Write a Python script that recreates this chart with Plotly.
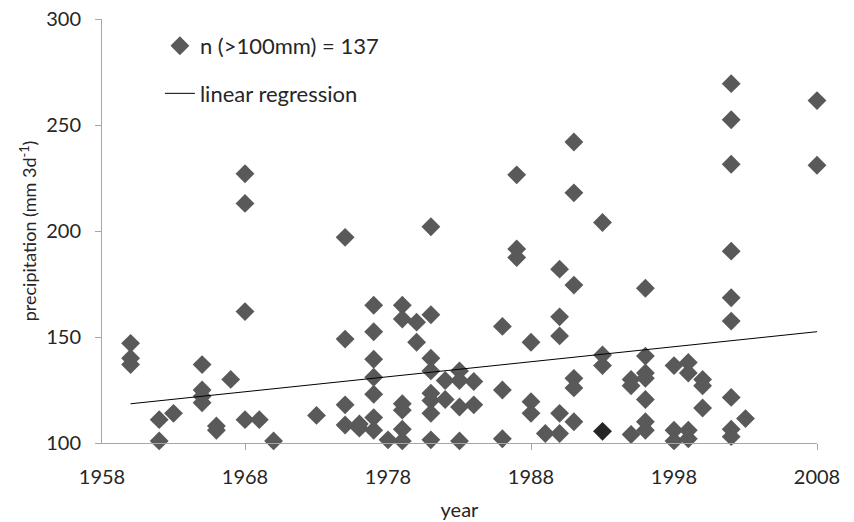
import plotly.graph_objects as go

# Events > 100 mm in 3 days: year, precipitation (mm 3d-1)
years = [
    1960, 1960, 1960,
    1962, 1962,
    1963,
    1965, 1965, 1965, 1965,
    1966, 1966,
    1967,
    1968, 1968, 1968, 1968,
    1969,
    1970,
    1973,
    1975, 1975, 1975, 1975,
    1976, 1976,
    1977, 1977, 1977, 1977, 1977, 1977, 1977,
    1978,
    1979, 1979, 1979, 1979, 1979, 1979,
    1980, 1980,
    1981, 1981, 1981, 1981, 1981, 1981, 1981, 1981,
    1982, 1982,
    1983, 1983, 1983, 1983,
    1984, 1984,
    1986, 1986, 1986,
    1987, 1987, 1987,
    1988, 1988, 1988,
    1989,
    1990, 1990, 1990, 1990, 1990,
    1991, 1991, 1991, 1991, 1991, 1991,
    1993, 1993, 1993,
    1995, 1995, 1995,
    1996, 1996, 1996, 1996, 1996, 1996, 1996,
    1998, 1998, 1998,
    1999, 1999, 1999, 1999,
    2000, 2000, 2000,
    2002, 2002, 2002, 2002, 2002, 2002, 2002, 2002, 2002,
    2003,
    2008, 2008,
]
precip = [
    147, 140, 137,
    111, 101,
    114,
    137, 125, 122, 119,
    108, 106,
    130,
    227, 213, 162, 111,
    111,
    101,
    113,
    197, 149, 118, 108.5,
    109, 107,
    165, 152.5, 139.5, 131, 123, 112, 106,
    101.5,
    165, 158.5, 118.5, 115.5, 106.5, 101,
    157, 147.5,
    202, 160.5, 140, 134, 123.5, 120, 114, 101.5,
    129.5, 120.5,
    134, 129.5, 117, 101,
    129, 118,
    155, 125, 102,
    226.5, 191.5, 187.5,
    147.5, 119.5, 114,
    104.5,
    182, 159.5, 150.5, 114, 104.5,
    242, 218, 174.5, 130.5, 126, 110,
    204, 141.5, 136.5,
    130, 127, 104,
    173, 141, 133, 130.5, 120.5, 110, 106,
    136.5, 106, 101,
    138, 133, 106, 102,
    130, 127, 116.5,
    269.5, 252.5, 231.5, 190.5, 168.5, 157.5, 121.5, 106.5, 103,
    111.5,
    261.5, 231,
]
# highlighted (darker) event
dark_years = [1993]
dark_precip = [105.5]

# linear regression end points
reg_years = [1960, 2008]
reg_precip = [118.5, 152.5]

x_ticks = [1958, 1968, 1978, 1988, 1998, 2008]
y_ticks = [100, 150, 200, 250, 300]

FONT = "Lato"
GREY = "#595959"
AXIS = "#a6a6a6"

fig = go.Figure()
fig.add_trace(go.Scatter(
    x=years, y=precip, mode="markers", name="n (>100mm) = 137",
    marker=dict(symbol="diamond", size=14.5, color=GREY, line=dict(width=0)),
    cliponaxis=False, legendgroup="a",
))
fig.add_trace(go.Scatter(
    x=dark_years, y=dark_precip, mode="markers", showlegend=False,
    marker=dict(symbol="diamond", size=14.5, color="#262626", line=dict(width=0)),
    cliponaxis=False,
))
fig.add_trace(go.Scatter(
    x=reg_years, y=reg_precip, mode="lines", name="linear regression",
    line=dict(color="black", width=1), legendgroup="b",
))

fig.update_layout(
    width=854, height=522,
    margin=dict(l=102, r=37, t=19, b=79),
    paper_bgcolor="white", plot_bgcolor="white",
    font=dict(family=FONT, size=18, color="#262626"),
    showlegend=True,
    legend=dict(
        x=0.081, y=0.986, xanchor="left", yanchor="top",
        bgcolor="rgba(0,0,0,0)", font=dict(size=22, family=FONT),
        tracegroupgap=16, itemwidth=30,
    ),
    xaxis=dict(
        range=[1958, 2008], tickvals=x_ticks, ticktext=[str(v) for v in x_ticks],
        showgrid=False, zeroline=False, showline=True, linecolor=AXIS, linewidth=1,
        ticks="", ticklabelstandoff=16, automargin=False,
        minor=dict(ticks="outside", tickvals=[1968, 1988, 2008], ticklen=6, tickcolor=AXIS),
        title=dict(text="year", standoff=15, font=dict(size=20)),
        tickfont=dict(size=20),
    ),
    yaxis=dict(
        range=[100, 300], tickvals=y_ticks, automargin=False,
        showgrid=False, zeroline=False, showline=True, linecolor=AXIS, linewidth=1,
        ticks="outside", ticklen=6, tickcolor=AXIS, ticklabelstandoff=10,
        title=dict(text="precipitation (mm 3d<sup>-1</sup>)", standoff=4, font=dict(size=18)),
        tickfont=dict(size=20),
    ),
)

fig.write_html("out.html")
